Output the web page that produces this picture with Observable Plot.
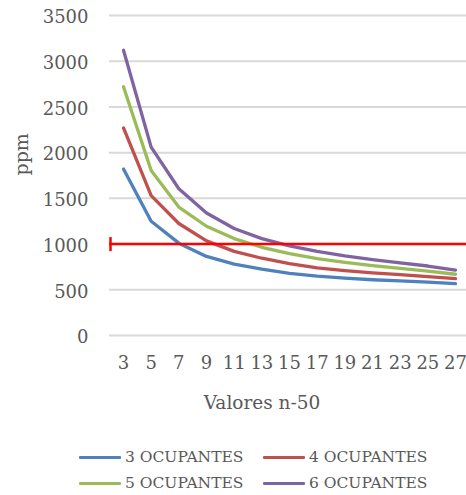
<!DOCTYPE html>
<html>
<head>
<meta charset="utf-8">
<script src="https://cdn.jsdelivr.net/npm/d3@7"></script>
<script src="https://cdn.jsdelivr.net/npm/@observablehq/plot@0.6"></script>
<style>
  body { margin: 0; background: #fff; font-family: "DejaVu Serif", serif; color: #595959; }
  #chart { width: 466px; }
  .legend { position: relative; width: 466px; height: 65px; }
  .item { position: absolute; display: flex; align-items: center; font-size: 15.5px; white-space: nowrap; }
  .sw { width: 42px; height: 3px; margin-right: 4px; border-radius: 1px; }
</style>
</head>
<body>
<div id="chart"></div>
<script>
const categories = [3, 5, 7, 9, 11, 13, 15, 17, 19, 21, 23, 25, 27];
const occ3 = [1820, 1250, 1010, 865, 780, 725, 680, 650, 628, 610, 598, 584, 568];
const occ4 = [2270, 1530, 1225, 1035, 920, 845, 785, 740, 710, 685, 665, 645, 622];
const occ5 = [2720, 1805, 1405, 1195, 1060, 965, 895, 840, 800, 765, 735, 705, 670];
const occ6 = [3120, 2060, 1605, 1340, 1170, 1060, 980, 920, 870, 830, 795, 760, 716];
const seriesNames = ["3 OCUPANTES", "4 OCUPANTES", "5 OCUPANTES", "6 OCUPANTES"];
const seriesColors = ["#4F81BD", "#C0504D", "#9BBB59", "#8064A2"];
const yTicks = [0, 500, 1000, 1500, 2000, 2500, 3000, 3500];
const limit = [1000];
const xTitle = "Valores n-50";
const yTitle = "ppm";

const allSeries = [occ3, occ4, occ5, occ6];
const data = [];
allSeries.forEach((vals, si) => {
  vals.forEach((v, i) => data.push({n: categories[i], v, s: seriesNames[si]}));
});

const capSymbol = { draw(ctx, size) { ctx.moveTo(0, -7); ctx.lineTo(0, 7); } };

const plot = Plot.plot({
  width: 466,
  height: 430,
  marginTop: 15,
  marginBottom: 95,
  marginLeft: 109,
  marginRight: 0,
  style: { fontFamily: "DejaVu Serif", color: "#595959", background: "transparent" },
  x: { type: "point", domain: categories, range: [123, 455], padding: 0, round: false },
  y: { domain: [0, 3500] },
  color: { domain: seriesNames, range: seriesColors },
  marks: [
    Plot.ruleY(yTicks, { stroke: "#d9d9d9", strokeWidth: 2 }),
    Plot.axisY({ ticks: yTicks, tickFormat: d => String(d), tickSize: 0, tickPadding: 21, fontSize: 18, dy: 2, label: null }),
    Plot.axisX({ tickFormat: d => String(d), tickSize: 0, tickPadding: 21, fontSize: 18, label: null }),
    Plot.line(data, { x: "n", y: "v", stroke: "s", z: "s", strokeWidth: 3.3 }),
    Plot.ruleY(limit, { stroke: "#ff0000", strokeWidth: 2.5 }),
    Plot.dot(limit, { y: d => d, frameAnchor: "left", dx: 1, symbol: capSymbol, stroke: "#ff0000", strokeWidth: 2.5, fill: "none" }),
    Plot.text([yTitle], { frameAnchor: "left", dx: -88, rotate: -90, fontSize: 19, fill: "#595959", text: d => d }),
    Plot.text([xTitle], { frameAnchor: "bottom", dx: -26, dy: 73, fontSize: 18.5, fill: "#595959", text: d => d })
  ]
});
document.getElementById("chart").appendChild(plot);

const legend = document.createElement("div");
legend.className = "legend";
const pos = [[79, 27], [263, 27], [79, 53], [263, 53]];
seriesNames.forEach((name, i) => {
  const it = document.createElement("div");
  it.className = "item";
  it.style.left = pos[i][0] + "px";
  it.style.top = (pos[i][1] - 10) + "px";
  it.style.height = "20px";
  const sw = document.createElement("span");
  sw.className = "sw";
  sw.style.background = seriesColors[i];
  const tx = document.createElement("span");
  tx.textContent = name;
  it.appendChild(sw);
  it.appendChild(tx);
  legend.appendChild(it);
});
document.body.appendChild(legend);
</script>
</body>
</html>
